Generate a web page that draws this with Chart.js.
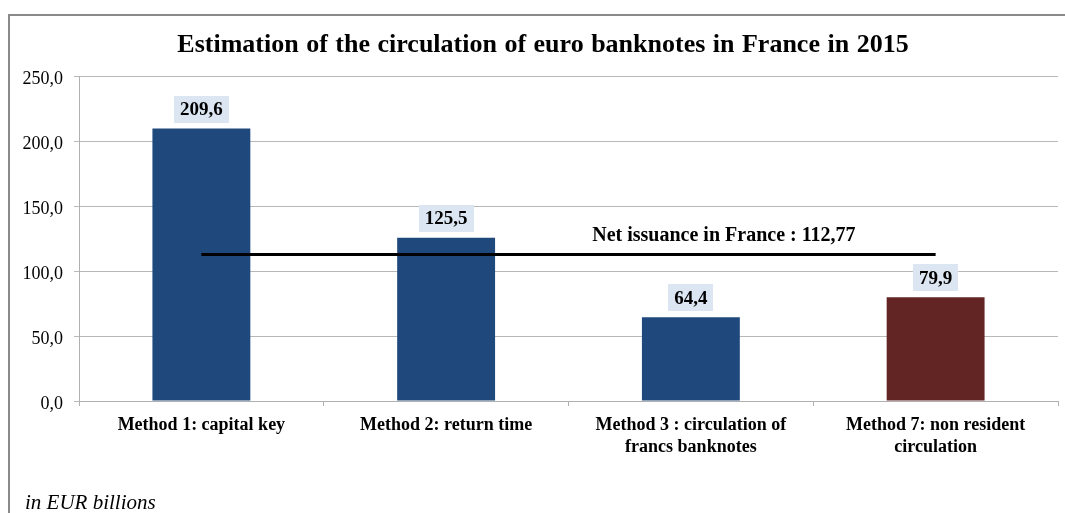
<!DOCTYPE html>
<html>
<head>
<meta charset="utf-8">
<script src="https://cdn.jsdelivr.net/npm/chart.js@4/dist/chart.umd.min.js"></script>
<style>
html,body{margin:0;padding:0;background:#fff;}
#wrap{position:relative;width:1065px;height:513px;}
</style>
</head>
<body>
<div id="wrap"><canvas id="c" width="1065" height="513"></canvas></div>
<script>
const categories = [
  'Method 1: capital key',
  'Method 2: return time',
  ['Method 3 : circulation of', 'francs banknotes'],
  ['Method 7: non resident', 'circulation']
];
const estimates = [209.6, 125.5, 64.4, 79.9];
const valueLabels = ['209,6', '125,5', '64,4', '79,9'];
const netIssuance = [112.77, 112.77, 112.77, 112.77];
const netIssuanceLabel = 'Net issuance in France : 112,77';
const barColors = ['#1F497D', '#1F497D', '#1F497D', '#632523'];
const titleText = 'Estimation of the circulation of euro banknotes in France in 2015';
const footnote = 'in EUR billions';

const SERIF = '"Liberation Serif", "Times New Roman", serif';

const framePlugin = {
  id: 'frame',
  beforeDraw(chart) {
    const ctx = chart.ctx;
    ctx.save();
    ctx.fillStyle = '#fff';
    ctx.fillRect(0, 0, chart.width, chart.height);
    ctx.strokeStyle = '#8a8a8a';
    ctx.lineWidth = 2;
    ctx.strokeRect(9, 15, 1200, 700);
    ctx.restore();
  },
  afterDraw(chart) {
    const ctx = chart.ctx;
    ctx.save();
    ctx.fillStyle = '#000';
    ctx.textBaseline = 'middle';
    // title
    ctx.font = 'bold 26px ' + SERIF;
    ctx.textAlign = 'center';
    if ('wordSpacing' in ctx) ctx.wordSpacing = '1px';
    ctx.fillText(titleText, 543, 45);
    if ('wordSpacing' in ctx) ctx.wordSpacing = '0px';
    // footnote
    ctx.font = 'italic 21px ' + SERIF;
    ctx.textAlign = 'left';
    ctx.fillText(footnote, 25, 503);
    ctx.restore();
  }
};

const labelPlugin = {
  id: 'valueLabels',
  afterDatasetsDraw(chart) {
    const ctx = chart.ctx;
    const meta = chart.getDatasetMeta(1);
    ctx.save();
    ctx.font = 'bold 19px ' + SERIF;
    ctx.textAlign = 'center';
    ctx.textBaseline = 'middle';
    meta.data.forEach((bar, i) => {
      const txt = valueLabels[i];
      const w = ctx.measureText(txt).width + 12;
      const h = 27;
      const cx = bar.x;
      const bottom = bar.y - 6;
      ctx.fillStyle = '#DCE6F2';
      ctx.fillRect(Math.round(cx - w / 2), Math.round(bottom - h), Math.round(w), h);
      ctx.fillStyle = '#000';
      ctx.fillText(txt, cx, bottom - h / 2 + 1);
    });
    // net issuance label
    const x = chart.scales.x;
    const y = chart.scales.y;
    const x2 = x.getPixelForValue(2), x3 = x.getPixelForValue(3);
    const lx = x2 + 0.135 * (x3 - x2);
    const ly = y.getPixelForValue(netIssuance[0]) - 19;
    ctx.font = 'bold 20px ' + SERIF;
    ctx.fillText(netIssuanceLabel, lx, ly);
    ctx.restore();
  }
};

new Chart(document.getElementById('c'), {
  data: {
    labels: categories,
    datasets: [
      {
        type: 'line',
        data: netIssuance,
        borderColor: '#000',
        borderWidth: 3,
        pointRadius: 0,
        fill: false,
        order: 0
      },
      {
        type: 'bar',
        data: estimates,
        backgroundColor: barColors,
        borderWidth: 0,
        categoryPercentage: 1.0,
        barPercentage: 0.4,
        order: 1
      }
    ]
  },
  options: {
    responsive: false,
    animation: false,
    layout: { padding: { left: 0, right: 7, top: 76, bottom: 0 } },
    plugins: {
      legend: { display: false },
      tooltip: { enabled: false },
      title: { display: false }
    },
    scales: {
      x: {
        offset: true,
        grid: { drawOnChartArea: false, drawTicks: true, tickLength: 5, color: '#b0b0b0', offset: true },
        border: { color: '#b0b0b0', width: 1 },
        ticks: {
          color: '#000',
          font: { family: SERIF, size: 18, weight: 'bold', lineHeight: 22 / 18 },
          padding: 8,
          maxRotation: 0,
          autoSkip: false
        },
        afterFit(scale) { scale.height = 112; }
      },
      y: {
        min: 0,
        max: 250,
        grid: { color: '#b8b8b8', tickLength: 5, drawTicks: true },
        border: { color: '#b0b0b0', width: 1 },
        ticks: {
          stepSize: 50,
          color: '#000',
          padding: 11,
          labelOffset: 3,
          font: { family: SERIF, size: 18 },
          callback: (v) => v.toFixed(1).replace('.', ',')
        },
        afterFit(scale) { scale.width = 79; }
      }
    }
  },
  plugins: [framePlugin, labelPlugin]
});
</script>
</body>
</html>
